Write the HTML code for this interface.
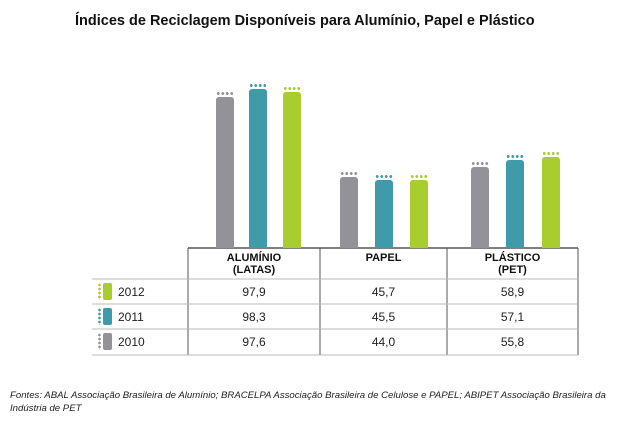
<!DOCTYPE html>
<html><head><meta charset="utf-8"><style>
body{margin:0;width:640px;height:425px;background:#fff;font-family:"Liberation Sans",sans-serif;position:relative;overflow:hidden}
.a{position:absolute}
.b{position:absolute;width:18px;border-radius:3px 3px 0 0}
.d{position:absolute;height:3px;width:18px;background:radial-gradient(circle,var(--c) 1.3px,transparent 1.6px) 0 0/4.5px 3px repeat-x}
.t{position:absolute;font-size:12px;color:#222;text-align:center}
.h{position:absolute;font-size:11px;font-weight:bold;color:#111;text-align:center;line-height:12px}
</style></head><body>
<div class="a" style="left:75px;top:13px;font-size:14.5px;font-weight:bold;color:#111">Índices de Reciclagem Disponíveis para Alumínio, Papel e Plástico</div>
<div id="bars"></div>
<svg class="a" style="left:0;top:0" width="640" height="425">
<g fill="none" stroke="#555">
<line x1="188" y1="248" x2="578" y2="248" stroke-width="1.5"/>
<line x1="188" y1="248" x2="188" y2="355"/>
<line x1="320" y1="248" x2="320" y2="355"/>
<line x1="447" y1="248" x2="447" y2="355"/>
<line x1="578" y1="248" x2="578" y2="355"/>
</g>
<g stroke="#bbb">
<line x1="92" y1="279" x2="578" y2="279"/>
<line x1="92" y1="304" x2="578" y2="304"/>
<line x1="92" y1="329" x2="578" y2="329"/>
<line x1="92" y1="355" x2="578" y2="355"/>
</g>
</svg>
<div class="b" style="left:216px;top:97px;height:151px;background:#939298"></div>
<div class="b" style="left:249px;top:89px;height:159px;background:#3f9aa9"></div>
<div class="b" style="left:283px;top:92px;height:156px;background:#a9cc2f"></div>
<div class="b" style="left:340px;top:177px;height:71px;background:#939298"></div>
<div class="b" style="left:375px;top:180px;height:68px;background:#3f9aa9"></div>
<div class="b" style="left:410px;top:180px;height:68px;background:#a9cc2f"></div>
<div class="b" style="left:471px;top:167px;height:81px;background:#939298"></div>
<div class="b" style="left:506px;top:160px;height:88px;background:#3f9aa9"></div>
<div class="b" style="left:542px;top:157px;height:91px;background:#a9cc2f"></div>
<div class="d" style="--c:#939298;left:216px;top:92px"></div>
<div class="d" style="--c:#3f9aa9;left:249px;top:84px"></div>
<div class="d" style="--c:#a9cc2f;left:283px;top:87px"></div>
<div class="d" style="--c:#939298;left:340px;top:172px"></div>
<div class="d" style="--c:#3f9aa9;left:375px;top:175px"></div>
<div class="d" style="--c:#a9cc2f;left:410px;top:175px"></div>
<div class="d" style="--c:#939298;left:471px;top:162px"></div>
<div class="d" style="--c:#3f9aa9;left:506px;top:155px"></div>
<div class="d" style="--c:#a9cc2f;left:542px;top:152px"></div>
<div class="h" style="left:188px;width:132px;top:252px">ALUMÍNIO<br>(LATAS)</div>
<div class="h" style="left:320px;width:127px;top:252px">PAPEL</div>
<div class="h" style="left:447px;width:131px;top:252px">PLÁSTICO<br>(PET)</div>
<div class="a" style="left:103px;top:283px;width:9px;height:17px;background:#a9cc2f;border-radius:2px"></div>
<div class="a" style="left:103px;top:308px;width:9px;height:17px;background:#3f9aa9;border-radius:2px"></div>
<div class="a" style="left:103px;top:333px;width:9px;height:17px;background:#939298;border-radius:2px"></div>
<div class="a" style="left:98px;top:283px;width:3px;height:17px;background:radial-gradient(circle,#a9cc2f 1.2px,transparent 1.5px) 0 0/3px 4px repeat-y"></div>
<div class="a" style="left:98px;top:308px;width:3px;height:17px;background:radial-gradient(circle,#3f9aa9 1.2px,transparent 1.5px) 0 0/3px 4px repeat-y"></div>
<div class="a" style="left:98px;top:333px;width:3px;height:17px;background:radial-gradient(circle,#939298 1.2px,transparent 1.5px) 0 0/3px 4px repeat-y"></div>
<div class="t" style="left:118px;top:285px">2012</div>
<div class="t" style="left:118px;top:310px">2011</div>
<div class="t" style="left:118px;top:335px">2010</div>
<div class="t" style="left:188px;width:132px;top:285px">97,9</div>
<div class="t" style="left:320px;width:127px;top:285px">45,7</div>
<div class="t" style="left:447px;width:131px;top:285px">58,9</div>
<div class="t" style="left:188px;width:132px;top:310px">98,3</div>
<div class="t" style="left:320px;width:127px;top:310px">45,5</div>
<div class="t" style="left:447px;width:131px;top:310px">57,1</div>
<div class="t" style="left:188px;width:132px;top:335px">97,6</div>
<div class="t" style="left:320px;width:127px;top:335px">44,0</div>
<div class="t" style="left:447px;width:131px;top:335px">55,8</div>
<div class="a" style="left:10px;top:389px;width:630px;font-size:9.6px;font-style:italic;color:#222;line-height:13px">Fontes: ABAL Associação Brasileira de Alumínio; BRACELPA Associação Brasileira de Celulose e PAPEL; ABIPET Associação Brasileira da Indústria de PET</div>
</body></html>
